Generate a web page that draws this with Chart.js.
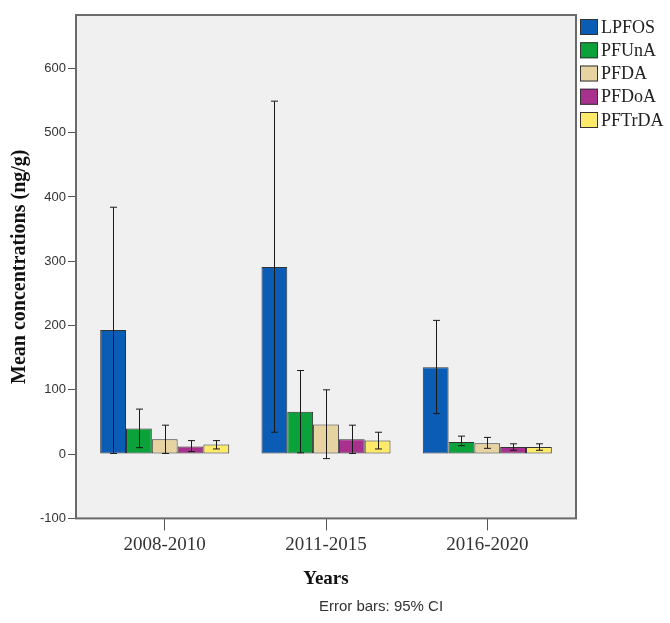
<!DOCTYPE html>
<html>
<head>
<meta charset="utf-8">
<script src="https://cdn.jsdelivr.net/npm/chart.js@4.4.0/dist/chart.umd.min.js"></script>
<style>
  body { margin: 0; background: #fff; }
  #wrap { width: 670px; height: 623px; }
</style>
</head>
<body>
<div id="wrap"><canvas id="pfasChart" width="670" height="623"></canvas></div>
<script>
// periods on the x axis
var periods = ['2008-2010', '2011-2015', '2016-2020'];
var compounds = ['LPFOS', 'PFUnA', 'PFDA', 'PFDoA', 'PFTrDA'];
var yTicks = [-100, 0, 100, 200, 300, 400, 500, 600];

// mean concentrations (ng/g)
var meanLPFOS = [193, 291, 135];
var meanPFUnA = [40, 66, 19];
var meanPFDA = [23, 46, 17];
var meanPFDoA = [12, 23, 11];
var meanPFTrDA = [15, 21, 11];

// 95% CI bounds
var lowLPFOS = [1, 34, 63];
var highLPFOS = [384, 549, 208];
var lowPFUnA = [10, 2, 13];
var highPFUnA = [70, 130, 28];
var lowPFDA = [1, -7, 9];
var highPFDA = [45, 100, 26];
var lowPFDoA = [4, 1, 6];
var highPFDoA = [21, 45, 16];
var lowPFTrDA = [8, 8, 6];
var highPFTrDA = [21, 34, 16];

var colors = ['#0b5cb5', '#0ba23b', '#e6d3a1', '#a7318d', '#fdea6a'];

var means = [meanLPFOS, meanPFUnA, meanPFDA, meanPFDoA, meanPFTrDA];
var lows = [lowLPFOS, lowPFUnA, lowPFDA, lowPFDoA, lowPFTrDA];
var highs = [highLPFOS, highPFUnA, highPFDA, highPFDoA, highPFTrDA];

function toPoints(arr) {
    return arr.map(function(v, i) { return { x: i, y: v }; });
}

var datasets = compounds.map(function(name, k) {
    return {
        label: name,
        data: toPoints(means[k]),
        backgroundColor: colors[k],
        borderColor: '#333',
        borderWidth: 1,
        borderSkipped: false,
        low: lows[k],
        high: highs[k]
    };
});

// grey plot box + frame
var plotBox = {
    id: 'plotBox',
    beforeDraw: function(chart) {
        var a = chart.chartArea, ctx = chart.ctx;
        ctx.save();
        ctx.fillStyle = '#f0f0f0';
        ctx.fillRect(a.left, a.top, a.right - a.left, a.bottom - a.top);
        ctx.restore();
    },
    afterDraw: function(chart) {
        var a = chart.chartArea, ctx = chart.ctx;
        ctx.save();
        ctx.strokeStyle = '#6a6a6a';
        ctx.lineWidth = 2;
        ctx.strokeRect(a.left, a.top, a.right - a.left, a.bottom - a.top);
        ctx.restore();
    }
};

// 95% CI whiskers
var errorBars = {
    id: 'errorBars',
    afterDatasetsDraw: function(chart) {
        var ctx = chart.ctx, y = chart.scales.y;
        ctx.save();
        ctx.strokeStyle = '#1a1a1a';
        ctx.lineWidth = 1;
        chart.data.datasets.forEach(function(ds, i) {
            var meta = chart.getDatasetMeta(i);
            meta.data.forEach(function(bar, j) {
                var x = Math.round(bar.x) + 0.5;
                var y1 = y.getPixelForValue(ds.low[j]);
                var y2 = y.getPixelForValue(ds.high[j]);
                ctx.beginPath();
                ctx.moveTo(x, y1); ctx.lineTo(x, y2);
                ctx.moveTo(x - 3.5, y1); ctx.lineTo(x + 3.5, y1);
                ctx.moveTo(x - 3.5, y2); ctx.lineTo(x + 3.5, y2);
                ctx.stroke();
            });
        });
        ctx.restore();
    }
};

// legend at right + caption under the axis
var extras = {
    id: 'extras',
    afterDraw: function(chart) {
        var ctx = chart.ctx;
        ctx.save();
        chart.data.datasets.forEach(function(ds, i) {
            var top = 19 + i * 23.25;
            ctx.fillStyle = ds.backgroundColor;
            ctx.fillRect(580, top, 18, 16);
            ctx.strokeStyle = '#333';
            ctx.lineWidth = 1;
            ctx.strokeRect(580.5, top + 0.5, 17, 15);
            ctx.fillStyle = '#222';
            ctx.font = '18px "Liberation Serif"';
            ctx.textBaseline = 'middle';
            ctx.textAlign = 'left';
            ctx.fillText(ds.label, 601, top + 9);
        });
        ctx.fillStyle = '#333';
        ctx.font = '15px "Liberation Sans"';
        ctx.textAlign = 'center';
        ctx.fillText('Error bars: 95% CI', 381, 607);
        ctx.restore();
    }
};

var ctx = document.getElementById('pfasChart').getContext('2d');
var myChart = new Chart(ctx, {
    type: 'bar',
    data: { datasets: datasets },
    options: {
        responsive: false,
        animation: false,
        categoryPercentage: 0.8,
        barPercentage: 1.0,
        layout: { padding: { top: 15, right: 94, bottom: 29, left: 0 } },
        plugins: {
            legend: { display: false },
            tooltip: { enabled: false }
        },
        scales: {
            x: {
                type: 'linear',
                offset: false,
                min: -0.55,
                max: 2.55,
                afterBuildTicks: function(s) {
                    s.ticks = periods.map(function(p, i) { return { value: i }; });
                },
                ticks: {
                    callback: function(v) { return periods[v]; },
                    font: { family: 'Liberation Serif', size: 19 },
                    color: '#333',
                    padding: 3,
                    maxRotation: 0
                },
                grid: { offset: false, drawOnChartArea: false, tickLength: 12, color: '#555' },
                border: { display: false },
                title: {
                    display: true,
                    text: 'Years',
                    font: { family: 'Liberation Serif', size: 19, weight: 'bold' },
                    color: '#111',
                    padding: { top: 8, bottom: 4 }
                }
            },
            y: {
                min: -100,
                max: 683,
                afterBuildTicks: function(s) {
                    s.ticks = yTicks.map(function(v) { return { value: v }; });
                },
                afterFit: function(s) { s.width = 76; },
                ticks: {
                    font: { family: 'Liberation Sans', size: 13 },
                    color: '#333',
                    padding: 2
                },
                grid: { drawOnChartArea: false, tickLength: 8, color: '#555' },
                border: { display: false },
                title: {
                    display: true,
                    text: 'Mean concentrations (ng/g)',
                    font: { family: 'Liberation Serif', size: 20, weight: 'bold' },
                    color: '#111',
                    padding: { top: 8, bottom: 4 }
                }
            }
        }
    },
    plugins: [plotBox, errorBars, extras]
});
</script>
</body>
</html>
